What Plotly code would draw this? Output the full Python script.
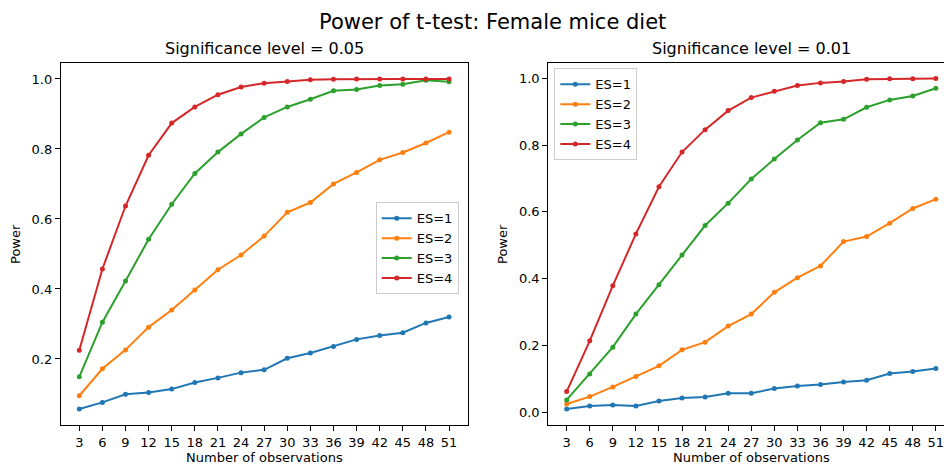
import plotly.graph_objects as go

n_obs = [3, 6, 9, 12, 15, 18, 21, 24, 27, 30, 33, 36, 39, 42, 45, 48, 51]
labels = ["ES=1", "ES=2", "ES=3", "ES=4"]
colors = ["#1f77b4", "#ff7f0e", "#2ca02c", "#d62728"]

# Significance level = 0.05
p05_es1 = [0.057, 0.076, 0.099, 0.104, 0.114, 0.133, 0.146, 0.161, 0.169, 0.202, 0.217, 0.236, 0.256, 0.267, 0.275, 0.303, 0.320]
p05_es2 = [0.095, 0.172, 0.226, 0.291, 0.340, 0.397, 0.455, 0.497, 0.551, 0.619, 0.647, 0.700, 0.733, 0.769, 0.790, 0.817, 0.848]
p05_es3 = [0.149, 0.305, 0.423, 0.542, 0.642, 0.730, 0.791, 0.843, 0.890, 0.920, 0.942, 0.966, 0.970, 0.981, 0.985, 0.996, 0.992]
p05_es4 = [0.225, 0.457, 0.637, 0.782, 0.874, 0.920, 0.955, 0.977, 0.988, 0.993, 0.998, 0.999, 1.000, 1.000, 1.000, 1.000, 1.000]

# Significance level = 0.01
p01_es1 = [0.010, 0.019, 0.022, 0.019, 0.034, 0.043, 0.046, 0.057, 0.057, 0.071, 0.079, 0.083, 0.091, 0.096, 0.116, 0.122, 0.131]
p01_es2 = [0.025, 0.047, 0.076, 0.107, 0.139, 0.187, 0.210, 0.258, 0.294, 0.359, 0.403, 0.438, 0.511, 0.526, 0.566, 0.610, 0.638]
p01_es3 = [0.037, 0.115, 0.195, 0.294, 0.382, 0.471, 0.559, 0.626, 0.698, 0.758, 0.815, 0.867, 0.877, 0.913, 0.935, 0.947, 0.970]
p01_es4 = [0.062, 0.214, 0.379, 0.534, 0.675, 0.779, 0.846, 0.903, 0.942, 0.961, 0.978, 0.986, 0.990, 0.997, 0.998, 0.998, 0.999]

y05_ticks = [0.2, 0.4, 0.6, 0.8, 1.0]
y01_ticks = [0.0, 0.2, 0.4, 0.6, 0.8, 1.0]

FONT = "DejaVu Sans"
W, H = 944, 467

fig = go.Figure()
for lab, col, ys in zip(labels, colors, [p05_es1, p05_es2, p05_es3, p05_es4]):
    fig.add_trace(go.Scatter(x=n_obs, y=ys, name=lab, mode="lines+markers",
                             line=dict(color=col, width=2), marker=dict(color=col, size=5),
                             xaxis="x", yaxis="y", legend="legend"))
for lab, col, ys in zip(labels, colors, [p01_es1, p01_es2, p01_es3, p01_es4]):
    fig.add_trace(go.Scatter(x=n_obs, y=ys, name=lab, mode="lines+markers",
                             line=dict(color=col, width=2), marker=dict(color=col, size=5),
                             xaxis="x2", yaxis="y2", legend="legend2"))

def px_x(p):
    return p / W

def px_y(p):
    return 1 - p / H

ydom = [px_y(425), px_y(62.5)]
axis_common = dict(showline=True, linecolor="#000", linewidth=1, ticks="outside", ticklen=5,
                   tickwidth=1, tickcolor="#000", showgrid=False, zeroline=False,
                   ticklabeloverflow="allow",
                   tickfont=dict(family=FONT, size=13, color="#000"))

fig.update_layout(
    width=W, height=H, margin=dict(l=0, r=0, t=0, b=0),
    paper_bgcolor="white", plot_bgcolor="white",
    font=dict(family=FONT, size=13, color="#000"),
    xaxis=dict(domain=[px_x(60.8), px_x(467.5)], range=[0.6, 53.4], tickvals=n_obs,
               mirror=True, anchor="y", **axis_common),
    yaxis=dict(domain=ydom, range=[0.0114, 1.047], tickvals=y05_ticks, tickformat=".1f",
               mirror=True, anchor="x", **axis_common),
    xaxis2=dict(domain=[px_x(548.2), 1.0], range=[0.6, 52.06], tickvals=n_obs,
                mirror=True, anchor="y2", **axis_common),
    yaxis2=dict(domain=ydom, range=[-0.038, 1.047], tickvals=y01_ticks, tickformat=".1f",
                mirror=False, anchor="x2", **axis_common),
    legend=dict(x=px_x(375.7), y=px_y(202.3), xanchor="left", yanchor="top",
                bgcolor="rgba(255,255,255,0.8)", bordercolor="#cccccc", borderwidth=1,
                font=dict(family=FONT, size=13, color="#000")),
    legend2=dict(x=px_x(554.3), y=px_y(68.3), xanchor="left", yanchor="top",
                 bgcolor="rgba(255,255,255,0.8)", bordercolor="#cccccc", borderwidth=1,
                 font=dict(family=FONT, size=13, color="#000")),
    showlegend=True,
)

ann = [
    dict(text="Power of t-test: Female mice diet", x=px_x(492), y=px_y(22), size=21),
    dict(text="Significance level = 0.05", x=px_x(264), y=px_y(48), size=16),
    dict(text="Significance level = 0.01", x=px_x(751), y=px_y(48), size=16),
    dict(text="Number of observations", x=px_x(264), y=px_y(457), size=13),
    dict(text="Number of observations", x=px_x(751), y=px_y(457), size=13),
]
for a in ann:
    fig.add_annotation(text=a["text"], x=a["x"], y=a["y"], xref="paper", yref="paper",
                       xanchor="center", yanchor="middle", showarrow=False,
                       font=dict(family=FONT, size=a["size"], color="#000"))
for xp in [16, 503]:
    fig.add_annotation(text="Power", x=px_x(xp), y=px_y(244), xref="paper", yref="paper",
                       xanchor="center", yanchor="middle", showarrow=False, textangle=-90,
                       font=dict(family=FONT, size=13, color="#000"))

fig.write_html("out.html")
